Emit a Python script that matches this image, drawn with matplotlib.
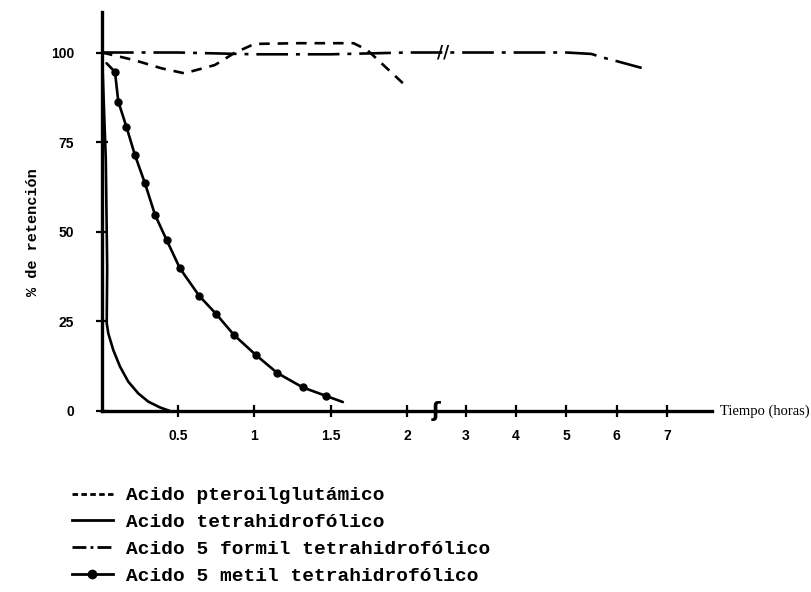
import matplotlib
matplotlib.use("Agg")
import matplotlib.pyplot as plt
from matplotlib.lines import Line2D
import numpy as np

# retention (%) vs time (hours)
pteroil_t = [0, 0.21, 0.39, 0.54, 0.74, 0.87, 1.0, 1.3, 1.65, 1.74, 2.0]
pteroil_v = [100, 97.9, 95.6, 94.2, 96.5, 99.9, 102.4, 102.6, 102.6, 100.7, 90.4]

tetra_t = [0, 0.025, 0.034, 0.031, 0.041, 0.074, 0.118, 0.172, 0.238, 0.304, 0.38, 0.446]
tetra_v = [100, 70, 40, 24.5, 21.7, 17.0, 12.4, 8.2, 4.9, 2.6, 1.0, 0]

formil_t = [0, 0.5, 1.0, 1.5, 2.0, 3.0, 4.0, 5.0, 5.5, 5.7, 6.0, 6.5]
formil_v = [100, 100, 99.5, 99.5, 100, 100, 100, 100, 99.6, 98.7, 97.6, 95.7]

metil_t = [0.03, 0.085, 0.107, 0.16, 0.216, 0.282, 0.348, 0.424, 0.511, 0.638, 0.748,
           0.866, 1.01, 1.15, 1.316, 1.47, 1.58]
metil_v = [97, 94.6, 86.3, 79.3, 71.4, 63.5, 54.7, 47.7, 39.8, 32.1, 27.1,
           21.2, 15.6, 10.6, 6.6, 4.2, 2.5]

x_ticks = [0.5, 1, 1.5, 2, 3, 4, 5, 6, 7]
x_ticklabels = ["0.5", "1", "1.5", "2", "3", "4", "5", "6", "7"]
y_ticks = [0, 25, 50, 75, 100]

labels = [
    "Acido pteroilglutámico",
    "Acido tetrahidrofólico",
    "Acido 5 formil tetrahidrofólico",
    "Acido 5 metil tetrahidrofólico",
]

# broken time axis: 0-2 h stretched, 3-7 h compressed
_brk_h = [-10, 0, 2, 3, 20]
_brk_p = [-1525, 0, 305, 364, 1218.25]


def fwd(x):
    return np.interp(x, _brk_h, _brk_p)


def inv(p):
    return np.interp(p, _brk_p, _brk_h)


W, H = 811, 592
fig = plt.figure(figsize=(W / 100, H / 100), dpi=100, facecolor="white")
ax = fig.add_axes([102 / W, 1 - 411 / H, (712 - 102) / W, (411 - 12) / H])
ax.set_xscale("function", functions=(fwd, inv))
ax.set_xlim(0, 7.9)
ax.set_ylim(0, 111.3)

lw = 1.9
common = dict(color="black", lw=lw, solid_joinstyle="round", solid_capstyle="round")
ax.plot(pteroil_t, pteroil_v, ls=(0, (4, 3)), **common)
ax.plot(tetra_t, tetra_v, **common)
ax.plot(formil_t, formil_v, ls=(0, (12, 3, 1.5, 3)), **common)
ax.plot(metil_t, metil_v, marker="o", ms=5,
        markevery=list(range(1, len(metil_t) - 1)), **common)

for side in ("top", "right"):
    ax.spines[side].set_visible(False)
for side in ("left", "bottom"):
    ax.spines[side].set_linewidth(2.4)

ax.set_xticks(x_ticks)
ax.set_xticklabels(x_ticklabels)
ax.set_yticks(y_ticks)
ax.minorticks_off()
ax.tick_params(axis="both", direction="inout", length=8, width=1.6, colors="black")
ax.tick_params(axis="x", pad=9)
ax.tick_params(axis="y", pad=16)
for lab in ax.get_xticklabels() + ax.get_yticklabels():
    lab.set_fontfamily("Liberation Sans")
    lab.set_fontweight("bold")
    lab.set_fontsize(10)

# axis break marks
ax.text(2.5, 0, "ʃ", ha="center", va="center", fontsize=15, fontweight="bold")
ax.text(2.62, 100, "//", ha="center", va="center", fontsize=12, fontweight="bold")

ax.text(1.013, 0, "Tiempo (horas)", transform=ax.transAxes, ha="left", va="center",
        fontsize=10.5, family="Liberation Serif")
fig.text(33 / W, 1 - 232 / H, "% de retención", rotation=90, ha="center", va="center",
         fontsize=11, family="Liberation Mono", fontweight="bold")

# legend proxies with short patterns, like the hand-drawn keys
handles = [
    Line2D([], [], color="black", lw=2, ls=(0, (2, 1.2))),
    Line2D([], [], color="black", lw=2),
    Line2D([], [], color="black", lw=2, ls=(0, (5, 1.5, 1, 1.5))),
    Line2D([], [], color="black", lw=2, marker="o", ms=6),
]
fig.legend(handles, labels, loc="upper left",
           bbox_to_anchor=(62 / W, 1 - 477 / H), frameon=False,
           prop={"family": "Liberation Mono", "weight": "bold", "size": 14},
           handlelength=2.1, handletextpad=0.7, labelspacing=0.48, borderpad=0)

fig.savefig("out.png", dpi=100, facecolor="white")
